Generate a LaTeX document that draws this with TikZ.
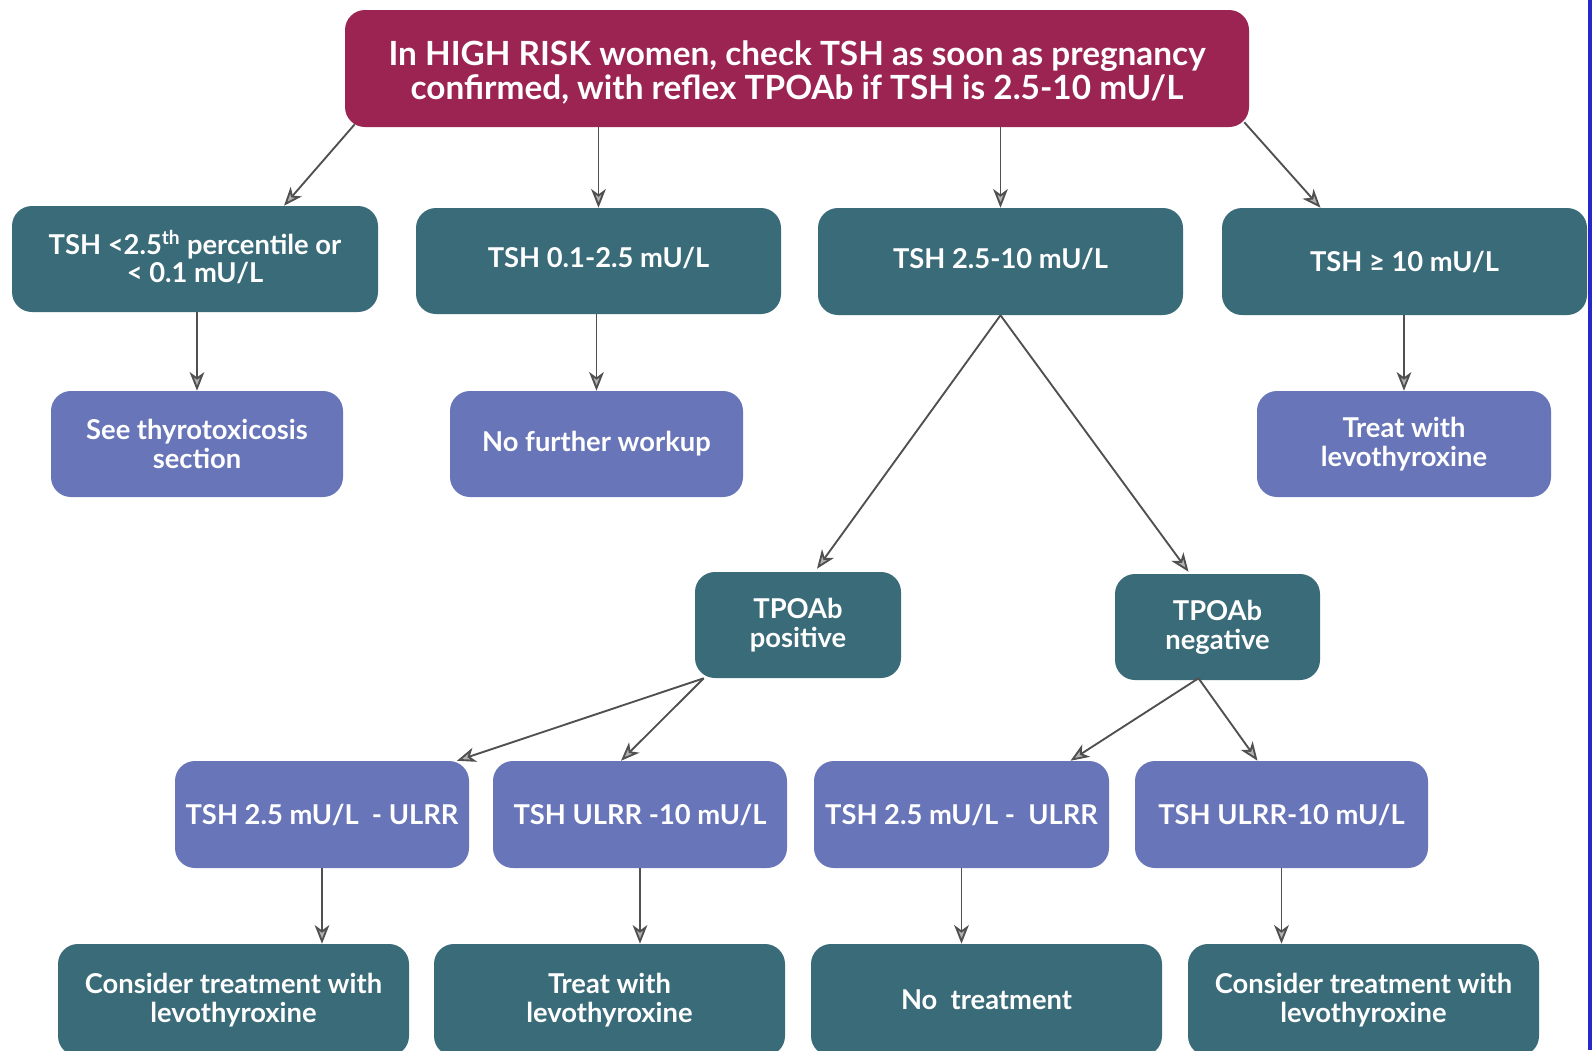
\documentclass[tikz,border=0pt]{standalone}
\usepackage{fontspec}
\setmainfont{Lato}
\usetikzlibrary{arrows.meta,calc}
\definecolor{crim}{RGB}{156,36,82}
\definecolor{tealc}{RGB}{57,107,120}
\definecolor{peri}{RGB}{104,117,184}
\definecolor{arr}{RGB}{80,80,80}
\definecolor{edgeblue}{RGB}{40,40,200}
\tikzset{
  bx/.style 2 args={rounded corners=15pt, text=white, align=center, inner sep=0pt,
     minimum width=#1*0.75pt, minimum height=#2*0.75pt, font=\bfseries\fontsize{20.5}{21.5}\selectfont},
  topbox/.style={bx={904}{117}, fill=crim, font=\bfseries\fontsize{25}{26}\selectfont},
  tbox/.style 2 args={bx={#1}{#2}, fill=tealc},
  pbox/.style 2 args={bx={#1}{#2}, fill=peri},
  conn/.style={draw=arr, line width=1.4pt, -{Stealth[length=14pt,width=11pt,inset=4pt,fill=gray!60]}}
}
\newcommand{\lowr}[2]{\raisebox{#1}[\height][\depth]{#2}}
\begin{document}
\begin{tikzpicture}[x=0.75pt,y=-0.75pt]
\useasboundingbox (0,0) rectangle (1592,1050);
\clip (0,0) rectangle (1592,1050);
\fill[white] (0,0) rectangle (1592,1050);
\fill[edgeblue] (1588,0) rectangle (1592,1050);
% top
\node[topbox] (top) at (797,68.5) {\lowr{-3pt}{In HIGH RISK women, check TSH as soon as pregnancy}\\\lowr{-3pt}{confirmed, with reflex TPOAb if TSH is 2.5-10 mU/L}};
% row 1
\node[tbox={366}{106}] (a) at (195,259) {\lowr{1.5pt}{TSH <2.5\textsuperscript{th} percentile or}\\\lowr{1.5pt}{< 0.1 mU/L}};
\node[tbox={365}{106}] (b) at (598.5,261) {\lowr{2pt}{TSH 0.1-2.5 mU/L}};
\node[tbox={365}{107}] (c) at (1000.5,261.5) {\lowr{2pt}{TSH 2.5-10 mU/L}};
\node[tbox={365}{107}] (d) at (1404.5,261.5) {TSH ≥ 10 mU/L};
% row 2
\node[pbox={292}{106}] (a2) at (197,444) {See thyrotoxicosis\\section};
\node[pbox={293}{106}] (b2) at (596.5,444) {No further workup};
\node[pbox={294}{106}] (d2) at (1404,444) {Treat with\\levothyroxine};
% row 3
\node[tbox={206}{106}] (pos) at (798,625) {TPOAb\\positive};
\node[tbox={205}{106}] (neg) at (1217.5,627) {TPOAb\\negative};
% row 4
\node[pbox={294}{107}] (r1) at (322,814.5) {TSH 2.5 mU/L\ \ - ULRR};
\node[pbox={294}{107}] (r2) at (640,814.5) {TSH ULRR -10 mU/L};
\node[pbox={295}{107}] (r3) at (961.5,814.5) {TSH 2.5 mU/L -\ \ ULRR};
\node[pbox={293}{107}] (r4) at (1281.5,814.5) {TSH ULRR-10 mU/L};
% row 5
\node[tbox={351}{112}] (s1) at (233.5,1000) {Consider treatment with\\levothyroxine};
\node[tbox={351}{112}] (s2) at (609.5,1000) {Treat with\\levothyroxine};
\node[tbox={351}{112}] (s3) at (986.5,1000) {No\ \ treatment};
\node[tbox={351}{112}] (s4) at (1363.5,1000) {Consider treatment with\\levothyroxine};
% connectors
\draw[conn] ($(top.south west)+(10,-3)$) -- ($(a.north)+(89,0)$);
\draw[conn] (top.south -| b.north) -- (b.north);
\draw[conn] (top.south -| c.north) -- (c.north);
\draw[conn] ($(top.south east)+(-5,-5)$) -- ($(d.north)+(-84,0)$);
\draw[conn] (a.south -| a2.north) -- (a2.north);
\draw[conn] (b.south -| b2.north) -- (b2.north);
\draw[conn] (d.south -| d2.north) -- (d2.north);
\draw[conn] (c.south) -- ($(pos.north)+(19,-3)$);
\draw[conn] (c.south) -- ($(neg.north)+(-29,-2)$);
\draw[conn] ($(pos.south west)+(9,0)$) -- ($(r1.north)+(135,0)$);
\draw[conn] ($(pos.south west)+(9,0)$) -- ($(r2.north)+(-19,0)$);
\draw[conn] ($(neg.south)+(-19,-2)$) -- ($(r3.north)+(109,0)$);
\draw[conn] ($(neg.south)+(-19,-2)$) -- ($(r4.north)+(-24,0)$);
\draw[conn] (r1.south) -- (r1.south |- s1.north);
\draw[conn] (r2.south) -- (r2.south |- s2.north);
\draw[conn] (r3.south) -- (r3.south |- s3.north);
\draw[conn] (r4.south) -- (r4.south |- s4.north);
\end{tikzpicture}
\end{document}
